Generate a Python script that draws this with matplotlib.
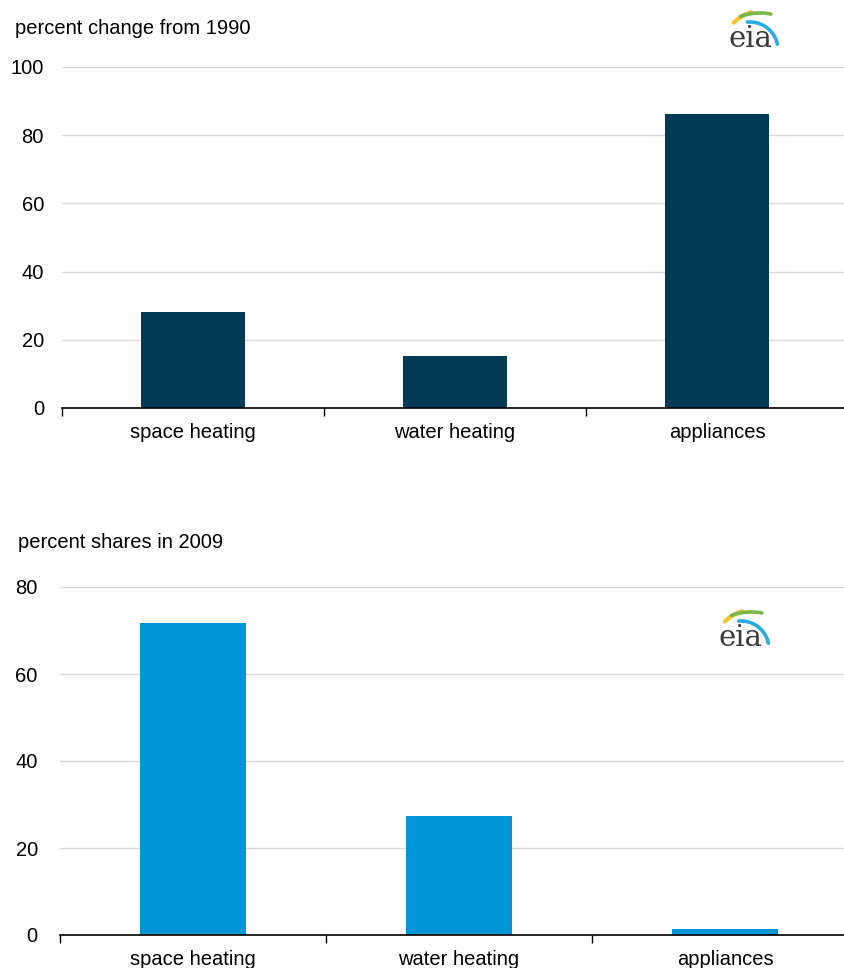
import numpy as np
import matplotlib.pyplot as plt

plt.rcParams['font.family'] = ['Liberation Sans', 'DejaVu Sans']

categories = ["space heating", "water heating", "appliances"]
change_1990 = [28.2, 15.2, 86.3]
shares_2009 = [71.7, 27.4, 1.4]

W, H = 844, 968
fig = plt.figure(figsize=(W / 100, H / 100), dpi=100)


def px_axes(x0, y0, x1, y1):
    # pixel box (top-left origin) -> figure axes
    return fig.add_axes([x0 / W, 1 - y1 / H, (x1 - x0) / W, (y1 - y0) / H])


def arc(ax, cx, cy, r, t0, t1, color, lw=2.6):
    t = np.radians(np.linspace(t0, t1, 40))
    ax.plot(cx + r * np.cos(t), cy + r * np.sin(t), color=color, lw=lw,
            solid_capstyle='round')


def draw_logo(bx, by):
    # bx, by = centre / baseline of the "eia" text in pixels; 1 unit = 1 px
    lax = px_axes(bx - 28, by - 45, bx + 32, by + 10)
    lax.set_xlim(0, 60)
    lax.set_ylim(0, 55)
    lax.axis('off')
    arc(lax, 43, 2, 45, 108, 134, '#f5c431', 3)
    arc(lax, 38, -13, 57, 79, 110, '#7ab648')
    arc(lax, 28, 7, 28, 12, 95, '#29abe2')
    lax.text(28, 10, "eia", family='DejaVu Serif', fontsize=21, color='#3a3a3a',
             ha='center', va='baseline')


def bar_panel(box, values, ymax, color, title, title_pos, ypad):
    ax = px_axes(*box)
    x = np.arange(len(categories))
    ax.bar(x, values, width=0.4, color=color, zorder=3)
    ax.set_xlim(-0.5, 2.5)
    ax.set_ylim(0, ymax)
    ax.set_yticks(np.arange(0, ymax + 1, 20))
    ax.grid(axis='y', color='#d9d9d9', lw=1, zorder=0)
    ax.set_xticks([-0.5, 0.5, 1.5, 2.5])
    ax.set_xticklabels([])
    ax.set_xticks(x, minor=True)
    ax.set_xticklabels(categories, minor=True, fontsize=14.5)
    ax.tick_params(axis='x', which='major', length=6, width=1, direction='out', color='black')
    ax.tick_params(axis='x', which='minor', length=0, pad=11)
    ax.tick_params(axis='y', length=0, labelsize=14.5, pad=ypad)
    for s in ['top', 'right', 'left']:
        ax.spines[s].set_visible(False)
    ax.spines['bottom'].set_color('black')
    ax.spines['bottom'].set_linewidth(1.2)
    ax.spines['bottom'].set_zorder(4)
    fig.text(title_pos[0] / W, 1 - title_pos[1] / H, title, fontsize=14.5,
             ha='left', va='center')
    return ax


bar_panel((62, 67, 848, 408), change_1990, 100, '#003a54',
          "percent change from 1990", (15, 28), 13)
bar_panel((60, 587, 858, 935), shares_2009, 80, '#0096d8',
          "percent shares in 2009", (18, 543), 16)

draw_logo(750, 47)
draw_logo(741, 646)

fig.savefig("out.png", dpi=100)
